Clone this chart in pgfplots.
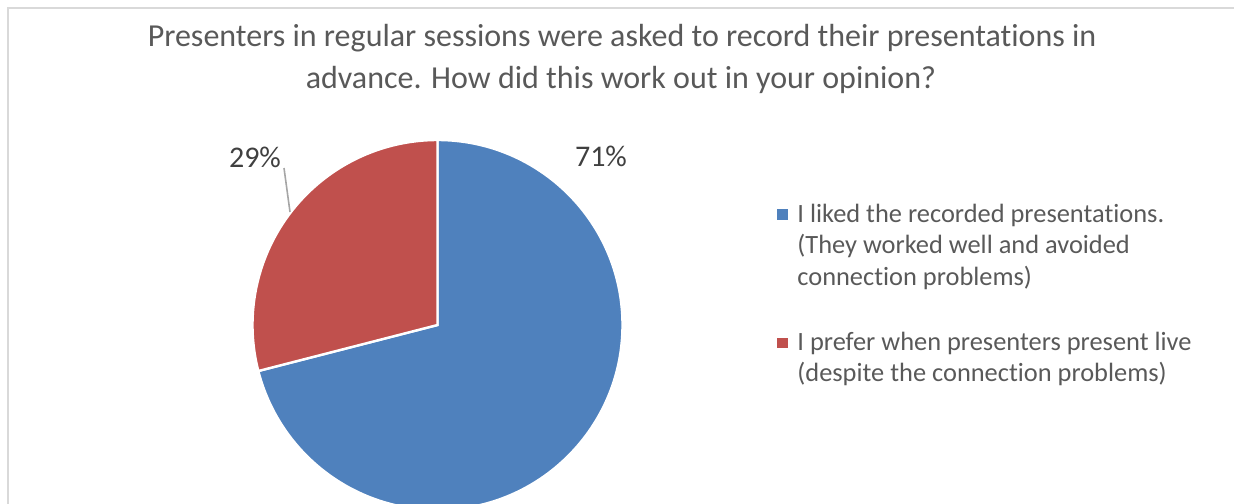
\documentclass[border=0pt]{standalone}
\usepackage{fontspec}
\setmainfont{Carlito}[RawFeature={-liga}]
\usepackage{pgfplots}
\usepackage{pgfplotstable}
\pgfplotsset{compat=1.18}
\definecolor{sliceblue}{HTML}{4F81BD}
\definecolor{slicered}{HTML}{C0504D}
\definecolor{titlegray}{HTML}{595959}
\definecolor{labelgray}{HTML}{404040}
\definecolor{framegray}{HTML}{D9D9D9}
\definecolor{leadergray}{HTML}{A6A6A6}

\pgfplotstableread{
label value
Liked 71
Live 29
}\piedata

\begin{document}
\begin{tikzpicture}
\pgfplotstablegetelem{0}{value}\of\piedata \let\va\pgfplotsretval
\pgfplotstablegetelem{1}{value}\of\piedata \let\vb\pgfplotsretval
\pgfmathsetmacro{\total}{\va+\vb}
\pgfmathsetmacro{\fa}{\va/\total}
\pgfmathsetmacro{\fb}{\vb/\total}
\pgfmathsetmacro{\angA}{90-360*\fa}
\pgfmathsetmacro{\angB}{\angA-360*\fb}
\def\R{92.5bp}
\begin{axis}[
  width=617bp, height=252bp, scale only axis,
  xmin=0, xmax=1234, ymin=0, ymax=504, y dir=reverse,
  hide axis, clip=true,
]
\coordinate (ll) at (axis cs:0,504);
\coordinate (ur) at (axis cs:1234,0);
% frame
\draw[framegray, line width=1bp] (axis cs:7.5,520) -- (axis cs:7.5,8.5) -- (axis cs:1250,8.5);
% slices
\fill[sliceblue, draw=white, line width=1.2bp, line join=miter]
  (axis cs:437.5,325) -- ++(90:\R) arc[start angle=90, end angle=\angA, radius=\R] -- cycle;
\fill[slicered, draw=white, line width=1.2bp, line join=miter]
  (axis cs:437.5,325) -- ++(\angA:\R) arc[start angle=\angA, end angle=\angB, radius=\R] -- cycle;
% data labels
\draw[leadergray, line width=0.8bp] (axis cs:284,168) -- (axis cs:290,212);
\node[anchor=base, text=labelgray, font=\fontsize{15bp}{18bp}\selectfont, inner sep=0pt] at (axis cs:601,166) {\va\%};
\node[anchor=base, text=labelgray, font=\fontsize{15bp}{18bp}\selectfont, inner sep=0pt] at (axis cs:255,167) {\vb\%};
% title
\node[anchor=base, text=titlegray, font=\fontsize{16bp}{20bp}\selectfont, inner sep=0pt] at (axis cs:622,47) {Presenters in regular sessions were asked to record their presentations in};
\node[anchor=base, text=titlegray, font=\fontsize{16bp}{20bp}\selectfont, inner sep=0pt] at (axis cs:621,88) {advance. How did this work out in your opinion?};
% legend
\fill[sliceblue] (axis cs:777,209) rectangle (axis cs:788,220);
\fill[slicered] (axis cs:777,338) rectangle (axis cs:788,348);
\begin{scope}[every node/.style={anchor=base west, text=titlegray, font=\fontsize{13.2bp}{15bp}\selectfont, inner sep=0pt}]
\node at (axis cs:797,222) {I liked the recorded presentations.};
\node at (axis cs:797,253) {(They worked well and avoided};
\node at (axis cs:797,285) {connection problems)};
\node at (axis cs:797,350) {I prefer when presenters present live};
\node at (axis cs:797,381) {(despite the connection problems)};
\end{scope}
\end{axis}
\pgfresetboundingbox
\path[use as bounding box] (ll) rectangle (ur);
\end{tikzpicture}
\end{document}
